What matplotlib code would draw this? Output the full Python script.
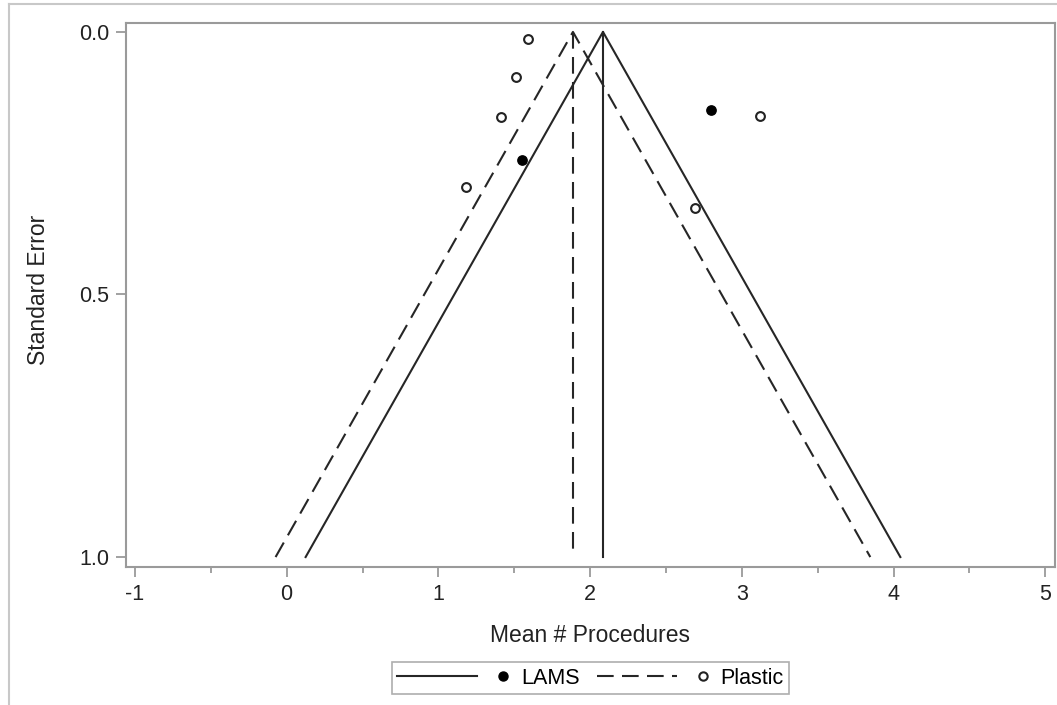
import matplotlib.pyplot as plt
from matplotlib.lines import Line2D

plt.rcParams['font.family'] = ['Liberation Sans', 'DejaVu Sans']

# study points (mean, standard error)
lams_x = [1.55, 2.80]
lams_se = [0.244, 0.149]
plastic_x = [1.59, 1.51, 1.41, 1.185, 3.12, 2.69]
plastic_se = [0.013, 0.086, 0.162, 0.295, 0.160, 0.335]

# pooled means for the funnels
lams_mean = 2.085
plastic_mean = 1.887
z = 1.96
se_max = 1.0

ink = '#262626'
gray = '#9a9a9a'
dash = (8, 4)


class LineThenMarker:
    # legend entry: line segment on the left, marker just before the label
    def legend_artist(self, legend, orig_handle, fontsize, handlebox):
        line, mark = orig_handle
        x0, y0 = handlebox.xdescent, handlebox.ydescent
        w, h = handlebox.width, handlebox.height
        ln = Line2D([-x0, -x0 + 0.70 * w], [h / 2 - y0] * 2)
        ln.update_from(line)
        ln.set_transform(handlebox.get_transform())
        mk = Line2D([-x0 + 0.93 * w], [h / 2 - y0])
        mk.update_from(mark)
        mk.set_transform(handlebox.get_transform())
        handlebox.add_artist(ln)
        handlebox.add_artist(mk)
        return ln


fig = plt.figure(figsize=(10.57, 7.05), dpi=100)
ax = fig.add_axes([0.1189, 0.1957, 0.8793, 0.7717])

# funnels
ax.plot([lams_mean - z * se_max, lams_mean, lams_mean + z * se_max], [se_max, 0, se_max],
        color=ink, lw=1.5)
ax.plot([lams_mean, lams_mean], [0, se_max], color=ink, lw=1.5)
ax.plot([plastic_mean - z * se_max, plastic_mean, plastic_mean + z * se_max], [se_max, 0, se_max],
        color=ink, lw=1.5, dashes=dash)
ax.plot([plastic_mean, plastic_mean], [0, se_max], color=ink, lw=1.5, dashes=dash)

ax.scatter(lams_x, lams_se, s=45, color='black', zorder=3)
ax.scatter(plastic_x, plastic_se, s=40, facecolor='white', edgecolor='#222222', lw=1.5, zorder=3)

ax.set_xlim(-1.061, 5.065)
ax.set_ylim(1.019, -0.017)
ax.set_xticks([-1, 0, 1, 2, 3, 4, 5])
ax.set_xticklabels(['-1', '0', '1', '2', '3', '4', '5'])
ax.set_xticks([-0.5, 0.5, 1.5, 2.5, 3.5, 4.5], minor=True)
ax.set_yticks([0, 0.5, 1.0])
ax.set_yticklabels(['0.0', '0.5', '1.0'])

for s in ax.spines.values():
    s.set_color(gray)
    s.set_linewidth(1.5)
ax.tick_params(axis='both', which='major', length=7, width=1.3, color=gray,
               labelsize=15.5, labelcolor='#222222', pad=5)
ax.tick_params(axis='x', which='minor', length=4, width=1.3, color=gray)

ax.set_xlabel('Mean # Procedures', fontsize=16.5, color='#222222')
ax.set_ylabel('Standard Error', fontsize=16.5, color='#222222')
ax.xaxis.set_label_coords(0.5, -0.105)
ax.yaxis.set_label_coords(-0.0815, 0.51)

solid = Line2D([], [], color=ink, lw=1.5)
dashed = Line2D([], [], color=ink, lw=1.5, dashes=dash)
lams_mark = Line2D([], [], ls='none', marker='o', markersize=6.5, color='black')
plastic_mark = Line2D([], [], ls='none', marker='o', markersize=6, markerfacecolor='white',
                      markeredgecolor='#222222', markeredgewidth=1.5)
leg = ax.legend([(solid, lams_mark), (dashed, plastic_mark)], ['LAMS', 'Plastic'],
                handler_map={tuple: LineThenMarker()}, ncol=2, loc='center',
                bbox_to_anchor=(0.5, -0.204), frameon=True, fancybox=False,
                fontsize=15.5, handlelength=5.3, handletextpad=0.45, columnspacing=0.8,
                borderpad=0.25, borderaxespad=0)
leg.get_frame().set_edgecolor(gray)
leg.get_frame().set_linewidth(1.2)

# outer frame of the original graphic
fig.add_artist(Line2D([9 / 1057, 9 / 1057], [0, 1 - 4 / 705], color='#c8c8c8', lw=1.5))
fig.add_artist(Line2D([9 / 1057, 1], [1 - 4 / 705, 1 - 4 / 705], color='#c8c8c8', lw=1.5))

fig.savefig('out.png', dpi=100)
